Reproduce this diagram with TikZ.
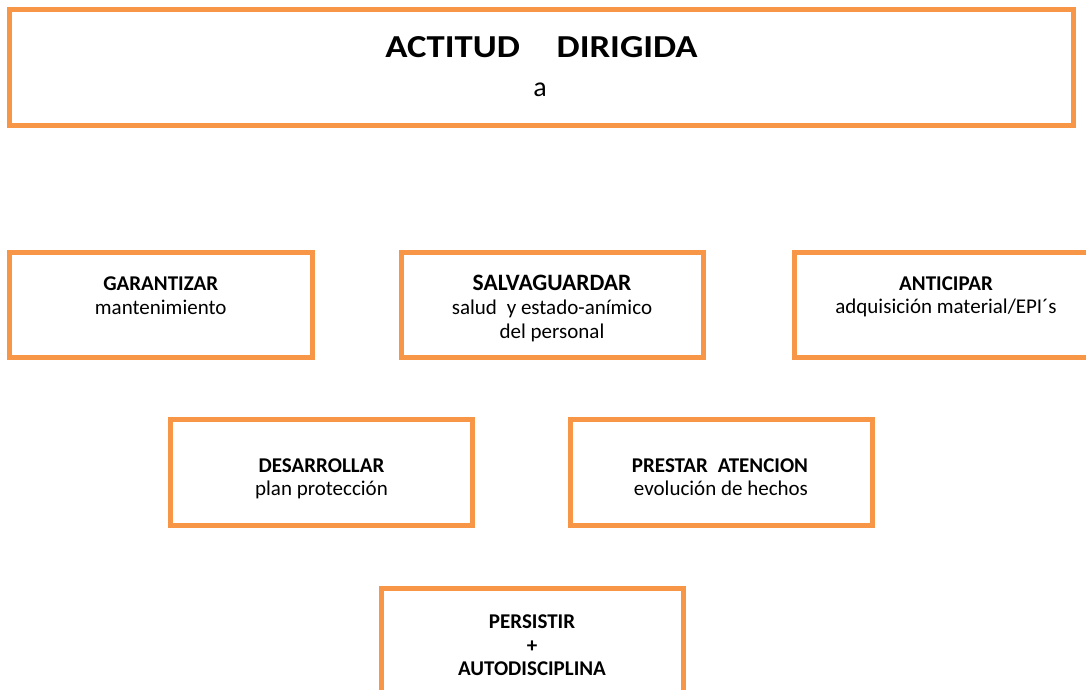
\documentclass[tikz,border=0pt]{standalone}
\usepackage{graphicx}
\usepackage{fontspec}
\setmainfont{Carlito}
\definecolor{boxorange}{RGB}{247,150,70}
\tikzset{
  orbox/.style={draw=boxorange, line width=5pt, fill=none, inner sep=0pt, outer sep=0pt, rectangle},
  ln/.style={anchor=base, inner sep=0pt, font=\fontsize{21pt}{24pt}\selectfont},
  lnb/.style={ln, font=\fontsize{21pt}{24pt}\selectfont\bfseries},
}
\begin{document}
\begin{tikzpicture}[x=1pt,y=-1pt]
\useasboundingbox (0,0) rectangle (1086,690);
\clip (0,0) rectangle (1086,690);
% boxes
\node[orbox, minimum width=1064pt, minimum height=115.5pt] (top) at (541.5,67.75) {};
\node[orbox, minimum width=302.5pt, minimum height=105pt] (gar) at (160.75,305) {};
\node[orbox, minimum width=302.5pt, minimum height=105pt] (sal) at (552.25,305) {};
\node[orbox, minimum width=302.5pt, minimum height=105pt] (ant) at (945.75,305) {};
\node[orbox, minimum width=302pt, minimum height=106pt] (des) at (321.5,472.5) {};
\node[orbox, minimum width=302pt, minimum height=106pt] (pre) at (721,472.5) {};
\node[orbox, minimum width=302.5pt, minimum height=105pt] (per) at (532.25,640.5) {};
% title
\node[anchor=base, inner sep=0pt, font=\fontsize{32pt}{36pt}\selectfont\bfseries] (t1) at (541.5,58) {\scalebox{1.147}[1]{ACTITUD\hspace{32pt}DIRIGIDA}};
\node[anchor=base, inner sep=0pt, font=\fontsize{28pt}{32pt}\selectfont] (t2) at (540,97) {a};
% garantizar
\node[lnb] (g1) at (160.75,290) {GARANTIZAR};
\node[ln] (g2) at (160.75,314) {mantenimiento};
% salvaguardar
\node[lnb, font=\fontsize{23.5pt}{26pt}\selectfont\bfseries] (s1) at (552,290) {SALVAGUARDAR};
\node[ln] (s2) at (552,314.5) {salud\hspace{5pt} y estado-anímico};
\node[ln] (s3) at (552,338) {del personal};
% anticipar
\node[lnb] (a1) at (946,290) {ANTICIPAR};
\node[ln] (a2) at (946,313.5) {adquisición material/EPI´s};
% desarrollar
\node[lnb] (d1) at (321.5,472) {DESARROLLAR};
\node[ln] (d2) at (321.5,495) {plan protección};
% prestar
\node[lnb] (p1) at (720,472) {PRESTAR\hspace{5pt} ATENCION};
\node[ln] (p2) at (721,495) {evolución de hechos};
% persistir
\node[lnb] (r1) at (532,628) {PERSISTIR};
\node[lnb] (r2) at (532,652) {+};
\node[lnb] (r3) at (532,675) {AUTODISCIPLINA};
\end{tikzpicture}
\end{document}
